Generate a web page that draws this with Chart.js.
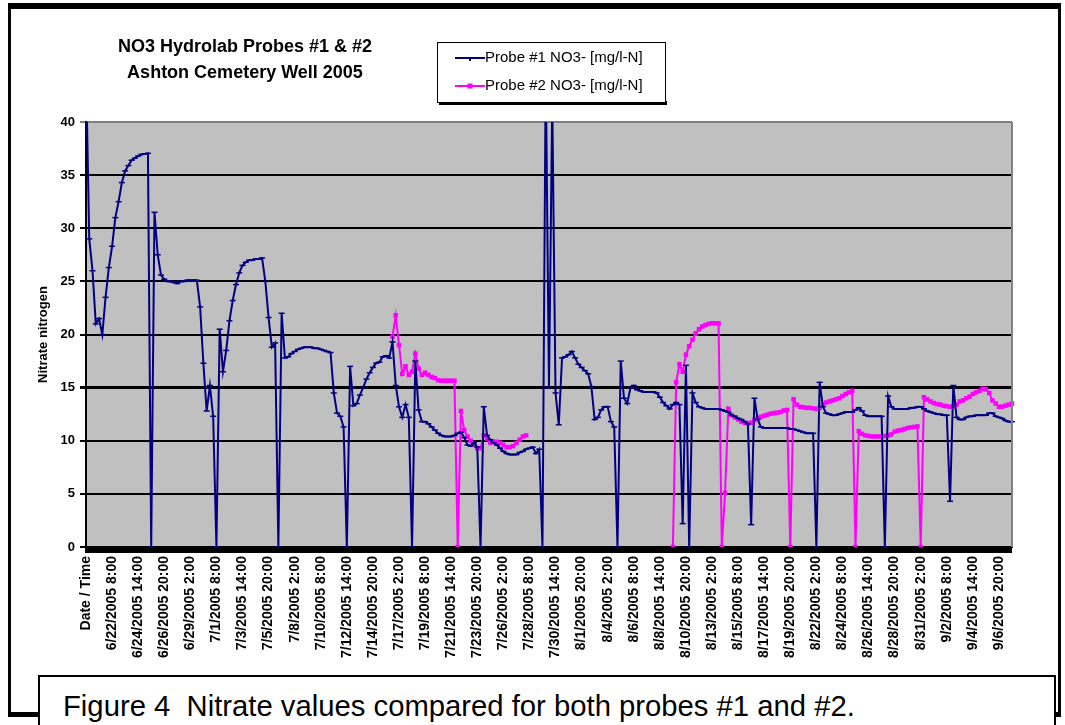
<!DOCTYPE html>
<html><head><meta charset="utf-8">
<script src="https://cdn.jsdelivr.net/npm/chart.js@4.4.1/dist/chart.umd.min.js"></script>
<style>
html,body{margin:0;padding:0;background:#fff;}
#wrap{position:relative;width:1065px;height:725px;overflow:hidden;background:#fff;}
#c{position:absolute;left:0;top:0;}
#frame{position:absolute;left:8px;top:3px;width:1053px;height:714px;box-sizing:border-box;border-top:6px solid #000;border-left:3px solid #000;border-right:3px solid #000;border-bottom:5px solid #000;pointer-events:none;}
#caption{position:absolute;left:38px;top:675px;width:1018px;height:70px;box-sizing:border-box;border:2px solid #000;background:#fff;color:#000;}
#caption span{position:absolute;left:23px;top:13px;font-family:"Liberation Sans",Arial,sans-serif;font-size:30px;line-height:32px;white-space:pre;display:inline-block;transform:scaleX(0.975);transform-origin:0 0;}
</style></head>
<body><div id="wrap"><canvas id="c" width="1065" height="725"></canvas><div id="frame"></div><div id="caption"><span>Figure 4  Nitrate values compared for both probes #1 and #2.</span></div></div>
<script>
const TITLE_LINES = ['NO3 Hydrolab Probes #1 & #2', 'Ashton Cemetery Well 2005'];
const SERIES_NAMES = ['Probe #1 NO3- [mg/l-N]', 'Probe #2 NO3- [mg/l-N]'];
const Y_TITLE = 'Nitrate nitrogen';
const X_TITLE = 'Time';

const TICK_LABELS = [
  'Date / Time',
  '6/22/2005 8:00', '6/24/2005 14:00', '6/26/2005 20:00', '6/29/2005 2:00', '7/1/2005 8:00',
  '7/3/2005 14:00', '7/5/2005 20:00', '7/8/2005 2:00', '7/10/2005 8:00', '7/12/2005 14:00',
  '7/14/2005 20:00', '7/17/2005 2:00', '7/19/2005 8:00', '7/21/2005 14:00', '7/23/2005 20:00',
  '7/26/2005 2:00', '7/28/2005 8:00', '7/30/2005 14:00', '8/1/2005 20:00', '8/4/2005 2:00',
  '8/6/2005 8:00', '8/8/2005 14:00', '8/10/2005 20:00', '8/13/2005 2:00', '8/15/2005 8:00',
  '8/17/2005 14:00', '8/19/2005 20:00', '8/22/2005 2:00', '8/24/2005 8:00', '8/26/2005 14:00',
  '8/28/2005 20:00', '8/31/2005 2:00', '9/2/2005 8:00', '9/4/2005 14:00', '9/6/2005 20:00'
];

// readings per labelled interval
const SAMPLES_PER_LABEL = 8;

const PROBE1 = [
  45, 29, 26, 21, 21.5, 20, 23.5, 26.3, 28.3, 31.0,
  32.5, 34.3, 35.4, 35.9, 36.4, 36.6, 36.8, 36.95, 37.0, 37.05,
  0, 31.5, 27.5, 25.6, 25.2, 25.0, 25.0, 24.9, 24.8, 25.0,
  25.0, 25.1, 25.1, 25.1, 25.1, 22.6, 17.3, 12.8, 15.2, 12.3,
  0, 20.5, 16.5, 18.5, 21.3, 23.2, 24.7, 25.8, 26.5, 26.8,
  27.0, 27.0, 27.1, 27.1, 27.2, 25.0, 21.6, 18.8, 19.2, 0,
  22.0, 17.8, 17.9, 18.2, 18.4, 18.6, 18.7, 18.8, 18.8, 18.8,
  18.7, 18.7, 18.6, 18.5, 18.4, 18.3, 14.5, 12.6, 12.3, 11.3,
  0, 17.0, 13.3, 13.5, 14.3, 15.0, 15.8, 16.4, 16.9, 17.3,
  17.4, 17.9, 18.0, 17.8, 19.3, 15.2, 13.2, 12.2, 13.4, 12.2,
  0, 17.5, 12.9, 11.8, 11.8, 11.6, 11.3, 11.0, 10.7, 10.5,
  10.4, 10.4, 10.4, 10.5, 10.7, 10.8, 10.3, 9.6, 9.5, 9.8,
  9.4, 0, 13.2, 10.5, 10.1, 9.8, 9.6, 9.3, 9.0, 8.8,
  8.7, 8.7, 8.7, 8.9, 9.0, 9.2, 9.3, 9.4, 8.8, 9.2,
  0, 45, 15, 42, 14.5, 11.5, 17.8, 17.9, 18.1, 18.4,
  17.8, 17.2, 16.9, 16.6, 16.3, 15.1, 12.0, 12.2, 12.9, 13.2,
  13.2, 11.8, 11.3, 0, 17.5, 14.0, 13.5, 15.0, 15.2, 14.8,
  14.7, 14.6, 14.6, 14.6, 14.6, 14.5, 14.1, 13.6, 13.3, 13.0,
  13.4, 13.6, 13.4, 2.2, 17.1, 0, 14.5, 13.6, 13.2, 13.1,
  13.0, 13.0, 13.0, 13.0, 13.0, 12.9, 12.8, 12.7, 12.4, 12.3,
  12.1, 12.0, 11.8, 11.6, 2.1, 14.0, 12.0, 11.3, 11.2, 11.2,
  11.2, 11.2, 11.2, 11.2, 11.2, 11.2, 11.1, 11.1, 11.0, 10.9,
  10.8, 10.7, 10.7, 10.7, 0, 15.5, 13.2, 12.6, 12.5, 12.4,
  12.4, 12.5, 12.6, 12.7, 12.7, 12.7, 12.9, 13.1, 12.8, 12.4,
  12.3, 12.3, 12.3, 12.3, 12.3, 0, 14.2, 13.2, 13.0, 13.0,
  13.0, 13.0, 13.0, 13.1, 13.1, 13.2, 13.2, 13.0, 12.8, 12.7,
  12.6, 12.5, 12.5, 12.4, 12.4, 4.3, 15.2, 12.2, 12.0, 12.0,
  12.2, 12.3, 12.3, 12.4, 12.4, 12.4, 12.4, 12.6, 12.6, 12.3,
  12.2, 12.1, 11.9, 11.8, 11.8
];

// probe #2 starts logging at reading number 94
const PROBE2_START = 94;
const PROBE2 = [
  19.8, 21.8, 19.0, 16.3, 17.0, 16.2, 16.5, 18.2, 16.8, 16.2,
  16.4, 16.2, 16.0, 15.9, 15.7, 15.65, 15.65, 15.65, 15.65, 15.65,
  0, 12.8, 11.0, 10.4, 10.0, 9.7, 9.3, 9.3, 10.5, 10.2,
  9.8, 9.9, 9.9, 9.8, 9.6, 9.4, 9.4, 9.5, 9.8, 10.1,
  10.4, 10.5,
  null, null, null, null, null, null, null, null, null, null,
  null, null, null, null, null, null, null, null, null, null,
  null, null, null, null, null, null, null, null, null, null,
  null, null, null, null, null, null, null, null, null, null,
  null, null, null, null,
  0, 15.5, 17.2, 16.5, 18.1, 18.9, 19.5, 20.1, 20.5, 20.75,
  20.9, 21.0, 21.05, 21.05, 21.05, 0, 5.1, 13.0, 12.4, 12.2,
  12.0, 11.8, 11.7, 11.6, 11.7, 11.95, 12.1, 12.25, 12.35, 12.45,
  12.55, 12.6, 12.65, 12.7, 12.85, 12.9, 0, 13.9, 13.4, 13.2,
  13.15, 13.1, 13.1, 13.05, 13.0, 13.1, 13.4, 13.6, 13.7, 13.8,
  13.9, 14.0, 14.2, 14.4, 14.55, 14.7, 0, 10.9, 10.65, 10.5,
  10.45, 10.4, 10.4, 10.4, 10.4, 10.45, 10.5, 10.6, 10.85, 10.95,
  11.0, 11.1, 11.2, 11.25, 11.3, 11.35, 0, 14.1, 13.9, 13.7,
  13.55, 13.45, 13.4, 13.3, 13.25, 13.2, 13.25, 13.4, 13.7, 13.8,
  14.0, 14.15, 14.4, 14.55, 14.7, 14.9, 14.85, 14.5, 13.8, 13.5,
  13.2, 13.2, 13.3, 13.4, 13.5
];

const Y_MIN = 0, Y_MAX = 40, Y_STEP = 5;

const toPoints = (arr, start) => arr.map((v, j) => ({ x: (start + j) / SAMPLES_PER_LABEL, y: v }));

const NAVY = '#000080', MAGENTA = '#FF00FF';
const FONT = '"Liberation Sans", Arial, sans-serif';

const decor = {
  id: 'decor',
  beforeDraw(chart) {
    const { ctx, chartArea: a } = chart;
    ctx.save();
    ctx.fillStyle = '#C0C0C0';
    ctx.fillRect(a.left, a.top, a.right - a.left, a.bottom - a.top);
    ctx.restore();
  },
  afterDatasetsDraw(chart) {
    const { ctx, chartArea: a } = chart;
    ctx.save();
    ctx.strokeStyle = '#808080';
    ctx.lineWidth = 2;
    ctx.beginPath();
    ctx.moveTo(a.right, a.top);
    ctx.lineTo(a.right, a.bottom);
    ctx.stroke();
    ctx.fillStyle = '#000';
    ctx.fillRect(a.left - 1, a.bottom, a.right - a.left + 1, 6);
    ctx.restore();
  },
  afterDraw(chart) {
    const ctx = chart.ctx;
    ctx.save();
    // title
    ctx.fillStyle = '#000';
    ctx.font = 'bold 18px ' + FONT;
    ctx.textAlign = 'center';
    ctx.textBaseline = 'middle';
    ctx.fillText(TITLE_LINES[0], 245, 47);
    ctx.fillText(TITLE_LINES[1], 245, 73);
    // legend box
    const lx = 437, ly = 42, lw = 228, lh = 60;
    ctx.fillStyle = '#000';
    ctx.fillRect(lx + 2, ly + lh - 1, lw, 4);
    ctx.fillStyle = '#fff';
    ctx.fillRect(lx, ly, lw, lh);
    ctx.strokeStyle = '#000';
    ctx.lineWidth = 1;
    ctx.strokeRect(lx + 0.5, ly + 0.5, lw, lh);
    const rows = [58, 86];
    chart.data.datasets.forEach((ds, k) => {
      const y = rows[k];
      ctx.strokeStyle = ds.borderColor;
      ctx.lineWidth = 2;
      ctx.beginPath();
      ctx.moveTo(455, y);
      ctx.lineTo(485, y);
      ctx.stroke();
      if (k === 0) {
        ctx.beginPath();
        ctx.moveTo(470, y);
        ctx.lineTo(470, y + 3);
        ctx.stroke();
      } else {
        ctx.fillStyle = ds.pointBackgroundColor;
        ctx.fillRect(467.5, y - 2.5, 5, 5);
      }
      ctx.fillStyle = '#000';
      ctx.font = '15px ' + FONT;
      ctx.textAlign = 'left';
      ctx.textBaseline = 'middle';
      ctx.fillText(ds.label, 485, y);
    });
    ctx.restore();
  }
};

new Chart(document.getElementById('c'), {
  type: 'line',
  data: {
    datasets: [
      {
        label: SERIES_NAMES[0],
        data: toPoints(PROBE1, 0),
        borderColor: NAVY,
        backgroundColor: NAVY,
        borderWidth: 2,
        pointStyle: 'line',
        pointRadius: 3,
        pointBorderWidth: 1.5,
        pointBorderColor: NAVY,
        pointBackgroundColor: NAVY,
        tension: 0,
        spanGaps: false,
        clip: { left: 3, top: 0, right: 3, bottom: 4 }
      },
      {
        label: SERIES_NAMES[1],
        data: toPoints(PROBE2, PROBE2_START),
        borderColor: MAGENTA,
        backgroundColor: MAGENTA,
        borderWidth: 2,
        pointStyle: 'rect',
        pointRadius: 3.2,
        pointBorderWidth: 0,
        pointBorderColor: MAGENTA,
        pointBackgroundColor: MAGENTA,
        tension: 0,
        spanGaps: false,
        clip: { left: 3, top: 0, right: 3, bottom: 4 }
      }
    ]
  },
  options: {
    responsive: false,
    animation: false,
    events: [],
    layout: { padding: { left: 32, top: 122, right: 53, bottom: 33 } },
    plugins: { legend: { display: false }, title: { display: false }, tooltip: { enabled: false } },
    scales: {
      x: {
        type: 'linear',
        min: 0,
        max: 35.5,
        afterBuildTicks: (s) => { s.ticks = TICK_LABELS.map((_, k) => ({ value: k })); },
        afterFit: (s) => { s.height = 145; },
        grid: { display: true, drawOnChartArea: false, drawTicks: true, tickLength: 6, color: '#000', lineWidth: 1 },
        border: { display: true, color: '#000', width: 2 },
        ticks: {
          autoSkip: false, maxRotation: 90, minRotation: 90, padding: 3, color: '#000',
          font: { family: FONT, size: 14, weight: 'bold' },
          callback: (v, i) => TICK_LABELS[i]
        },
        title: { display: true, text: X_TITLE, color: '#000', padding: 0, font: { family: FONT, size: 13, weight: 'bold' } }
      },
      y: {
        min: Y_MIN,
        max: Y_MAX,
        afterFit: (s) => { s.width = 54; },
        grid: {
          color: (c) => (c.tick && c.tick.value === Y_MAX ? '#808080' : '#000'),
          lineWidth: (c) => (c.tick && c.tick.value === 15 ? 3 : 2),
          drawTicks: true, tickLength: 6
        },
        border: { display: true, color: '#000', width: 2 },
        ticks: { stepSize: Y_STEP, padding: 5, color: '#000', font: { family: FONT, size: 13, weight: 'bold' } },
        title: { display: true, text: Y_TITLE, color: '#000', font: { family: FONT, size: 13, weight: 'bold' } }
      }
    }
  },
  plugins: [decor]
});
</script>
</body></html>
